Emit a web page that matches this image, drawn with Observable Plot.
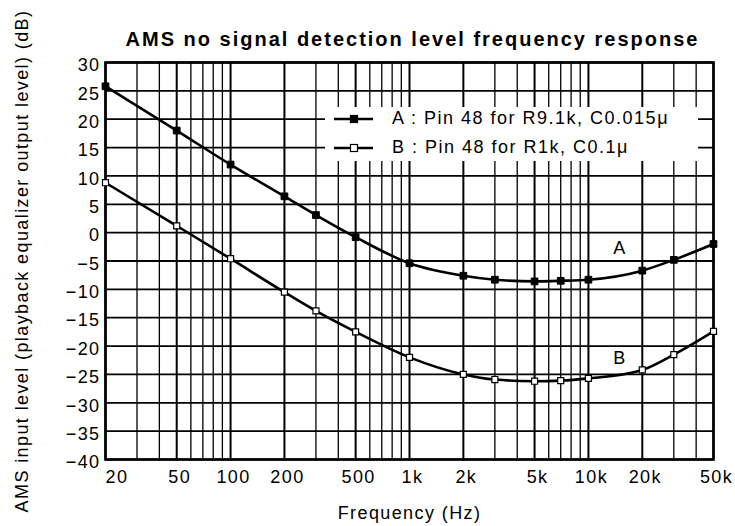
<!DOCTYPE html>
<html>
<head>
<meta charset="utf-8">
<script src="https://cdn.jsdelivr.net/npm/d3@7"></script>
<script src="https://cdn.jsdelivr.net/npm/@observablehq/plot@0.6"></script>
<style>
  body { margin: 0; background: white; }
  #wrap { position: relative; width: 735px; height: 526px; font-family: "Liberation Sans", Arial, Helvetica, sans-serif; }
  #wrap svg text { letter-spacing: 1.4px; }
  #wrap svg text.title { letter-spacing: 2px; }
  #legend { position: absolute; left: 325px; top: 107px; width: 373px; height: 54px; background: white; }
  .row { position: absolute; left: 0; height: 20px; width: 373px; }
  .row svg { position: absolute; left: 8px; top: 0; }
  .row span { position: absolute; left: 67px; top: -1px; font-size: 18px; line-height: 20px; letter-spacing: 1.5px; color: black; white-space: nowrap; }
  #ylabel { position: absolute; left: 22px; top: 261px; transform: translate(-50%, -50%) rotate(-90deg); font-size: 18px; line-height: 20px; letter-spacing: 1.4px; white-space: nowrap; color: black; }
</style>
</head>
<body>
<div id="wrap"></div>
<script>
// ---- data ----
const freqs   = [20, 50, 100, 200, 300, 500, 1000, 2000, 3000, 5000, 7000, 10000, 20000, 30000, 50000];
const seriesA = [25.8, 18.0, 12.0, 6.4, 3.1, -0.8, -5.4, -7.6, -8.3, -8.6, -8.5, -8.3, -6.7, -4.8, -2.0];
const seriesB = [8.8, 1.2, -4.6, -10.5, -13.8, -17.5, -22.0, -25.0, -25.9, -26.2, -26.1, -25.7, -24.2, -21.5, -17.4];

const xTickValues = [20, 50, 100, 200, 500, 1000, 2000, 5000, 10000, 20000, 50000];
const xTickLabels = ["20", "50", "100", "200", "500", "1k", "2k", "5k", "10k", "20k", "50k"];
const xMinorGrid  = [30, 40, 60, 70, 80, 90, 300, 400, 600, 700, 800, 900,
                     3000, 4000, 6000, 7000, 8000, 9000, 30000, 40000];
const yTickValues = [30, 25, 20, 15, 10, 5, 0, -5, -10, -15, -20, -25, -30, -35, -40];

const curveLabels = [
  {f: 15000, v: -2.8, t: "A"},
  {f: 15000, v: -22.2, t: "B"}
];
const titleText = "AMS no signal detection level frequency response";
const xLabelText = "Frequency (Hz)";
const yLabelText = "AMS input level (playback equalizer output level) (dB)";
const legendA = "A : Pin 48 for R9.1k, C0.015\u03bc";
const legendB = "B : Pin 48 for R1k, C0.1\u03bc";

const dataA = freqs.map((f, i) => ({f, v: seriesA[i]}));
const dataB = freqs.map((f, i) => ({f, v: seriesB[i]}));
const xTicks = xTickValues.map((f, i) => ({f, label: xTickLabels[i], first: i === 0}));

const chart = Plot.plot({
  width: 735,
  height: 526,
  marginTop: 62,
  marginRight: 22,
  marginBottom: 67,
  marginLeft: 105,
  style: {fontFamily: '"Liberation Sans", Arial, Helvetica, sans-serif', fontSize: "18px", background: "white", color: "black", overflow: "visible"},
  x: {type: "log", domain: [20, 50000], axis: null},
  y: {domain: [-40, 30]},
  marks: [
    Plot.ruleX(xMinorGrid, {stroke: "black", strokeWidth: 1.3}),
    Plot.ruleX(xTickValues, {stroke: "black", strokeWidth: 2}),
    Plot.ruleY(yTickValues, {stroke: "black", strokeWidth: 1.8}),
    Plot.frame({stroke: "black", strokeWidth: 2.6}),
    Plot.line(dataA, {x: "f", y: "v", curve: "monotone-x", stroke: "black", strokeWidth: 2.6}),
    Plot.line(dataB, {x: "f", y: "v", curve: "monotone-x", stroke: "black", strokeWidth: 2.6}),
    Plot.dot(dataA, {x: "f", y: "v", symbol: "square", r: 3.8, fill: "black", stroke: "black", strokeWidth: 1}),
    Plot.dot(dataB, {x: "f", y: "v", symbol: "square", r: 3.4, fill: "white", stroke: "black", strokeWidth: 1.2}),
    Plot.text(curveLabels, {x: "f", y: "v", text: "t", fontSize: 18, lineAnchor: "middle", fill: "black"}),
    // x tick labels
    Plot.text(xTicks.filter(d => d.first), {x: "f", text: "label", frameAnchor: "bottom", dy: 11, lineAnchor: "top", textAnchor: "start", fontSize: 18, fill: "black"}),
    Plot.text(xTicks.filter(d => !d.first), {x: "f", text: "label", frameAnchor: "bottom", dy: 11, dx: 3, lineAnchor: "top", fontSize: 18, fill: "black"}),
    // y tick labels
    Plot.axisY(yTickValues, {ticks: yTickValues, tickSize: 0, tickPadding: 5, dy: 3, label: null, fontSize: 18}),
    Plot.text([titleText], {text: d => d, frameAnchor: "top", dy: -17, dx: 3, lineAnchor: "bottom", fontWeight: "bold", fontSize: 20, fill: "black", className: "title"}),
    Plot.text([xLabelText], {text: d => d, frameAnchor: "bottom", dy: 59, lineAnchor: "bottom", fontSize: 18, fill: "black"})
  ]
});

const wrap = document.getElementById("wrap");
wrap.appendChild(chart);
chart.querySelectorAll("g.title text, .title text").forEach(t => t.classList.add("title"));

// y-axis label
const yl = document.createElement("div");
yl.id = "ylabel";
yl.textContent = yLabelText;
wrap.appendChild(yl);

// legend overlay
const legend = document.createElement("div");
legend.id = "legend";
function row(top, fill, text) {
  const r = document.createElement("div");
  r.className = "row";
  r.style.top = top + "px";
  r.innerHTML = `<svg width="42" height="20"><line x1="1" x2="40" y1="10" y2="10" stroke="black" stroke-width="2.4"/>` +
    `<rect x="17.5" y="6.5" width="7" height="7" fill="${fill}" stroke="black" stroke-width="1.2"/></svg>` +
    `<span>${text}</span>`;
  legend.appendChild(r);
}
row(2, "black", legendA);
row(30.7, "white", legendB);
wrap.appendChild(legend);
</script>
</body>
</html>
